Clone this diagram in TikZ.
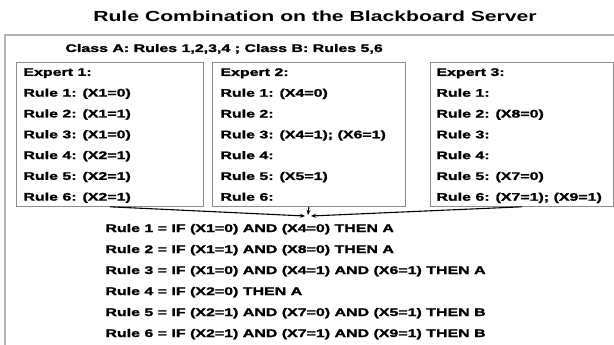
\documentclass[tikz,border=0pt]{standalone}
\usepackage{fontspec}
\usetikzlibrary{arrows.meta}
\usetikzlibrary{positioning, calc}
\newfontfamily\slidefont{Liberation Sans}[FakeStretch=1.45]
\newfontfamily\bodyfont{Liberation Sans}[FakeStretch=1.45, BoldFeatures={FakeBold=1.6}]
\definecolor{bbframe}{HTML}{B4B4B4}
\definecolor{bbedge}{HTML}{8C8C8C}

\begin{document}
\begin{tikzpicture}[
    x=1pt, y=-1pt,
    line width=0.9pt,
    txt/.style={inner sep=0pt, anchor=base west,
                font=\bodyfont\bfseries\fontsize{11}{20.8}\selectfont},
    rows/.style={txt, anchor=north west, align=left},
    expbox/.style={draw=bbedge, line width=0.8pt, anchor=north west,
                   minimum height=144pt, inner sep=0pt},
    arr/.style={black, line width=1.1pt, -{Stealth[length=5pt, width=4pt]}},
  ]
  \useasboundingbox (0,0) rectangle (614,345);

  % ---- title and server frame ----
  \node[font=\slidefont\bfseries\fontsize{14.6}{16}\selectfont] (title)
    at (315,16) {Rule Combination on the Blackboard Server};
  \begin{scope}
    \clip (0,0) rectangle (614,345);
    \draw[bbframe, line width=1.8pt] (5,35) rectangle (640,370);
  \end{scope}
  \node[txt] (classes) at (65,52) {Class A: Rules 1,2,3,4 ; Class B: Rules 5,6};

  % ---- expert boxes ----
  \node[expbox, minimum width=187pt] (e1) at (16,62) {};
  \node[expbox, minimum width=193pt] (e2) at (212,62) {};
  \node[expbox, minimum width=183pt] (e3) at (430,62) {};

  \node[rows] (e1txt) at ([shift={(7,5.8)}]e1.north west)
    {Expert 1:\\Rule 1: (X1=0)\\Rule 2: (X1=1)\\Rule 3: (X1=0)\\Rule 4: (X2=1)\\Rule 5: (X2=1)\\Rule 6: (X2=1)};
  \node[rows] (e2txt) at ([shift={(8,5.8)}]e2.north west)
    {Expert 2:\\Rule 1: (X4=0)\\Rule 2:\\Rule 3: (X4=1); (X6=1)\\Rule 4:\\Rule 5: (X5=1)\\Rule 6:};
  \node[rows] (e3txt) at ([shift={(6,5.8)}]e3.north west)
    {Expert 3:\\Rule 1:\\Rule 2: (X8=0)\\Rule 3:\\Rule 4:\\Rule 5: (X7=0)\\Rule 6: (X7=1); (X9=1)};

  % ---- merge into the combined rules ----
  \coordinate (merge) at (308,215);
  \draw[arr] (e1.south) -- ([shift={(-3,1)}]merge);
  \draw[arr] (e2.south) -- (merge);
  \draw[arr] (e3.south) -- ([shift={(3,1)}]merge);

  \foreach \i/\txt in {1/{IF (X1=0) AND (X4=0) THEN A},
                       2/{IF (X1=1) AND (X8=0) THEN A},
                       3/{IF (X1=0) AND (X4=1) AND (X6=1) THEN A},
                       4/{IF (X2=0) THEN A},
                       5/{IF (X2=1) AND (X7=0) AND (X5=1) THEN B},
                       6/{IF (X2=1) AND (X7=1) AND (X9=1) THEN B}}
    \node[txt] (rule\i) at (105,{232+21*(\i-1)}) {Rule \i{} = \txt};
\end{tikzpicture}
\end{document}
